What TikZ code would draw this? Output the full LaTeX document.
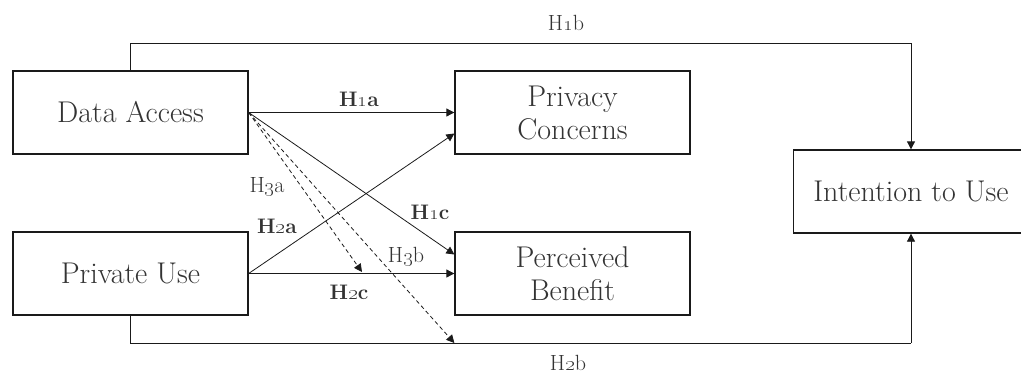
\documentclass[tikz,border=0pt]{standalone}
\usetikzlibrary{arrows.meta,calc}
\definecolor{txt}{HTML}{333333}
\definecolor{ln}{HTML}{1A1A1A}
\newcommand{\hyp}[2]{H\oldstylenums{#1}#2}
\begin{document}
\begin{tikzpicture}[x=1pt,y=-1pt,
  construct/.style={draw=ln,line width=1.3pt,rectangle,minimum width=235pt,minimum height=83pt,
    align=center,text=txt,font=\fontsize{30}{33}\selectfont,inner sep=0pt},
  link/.style={draw=ln,line width=0.8pt,-{Triangle[length=8pt,width=8pt]}},
  plain/.style={draw=ln,line width=0.8pt},
  dlink/.style={link,dash pattern=on 4pt off 3pt},
  hlab/.style={text=txt,anchor=base,inner sep=0pt,font=\fontsize{22}{26}\selectfont},
  blab/.style={hlab,font=\fontsize{21}{25}\selectfont\bfseries}]
\useasboundingbox (0,0) rectangle (1021,373);

% constructs
\node[construct] (da) at (130.5,112.5) {Data Access};
\node[construct] (pu) at (130.5,273.5) {Private Use};
\node[construct] (pc) at (572.5,112.5) {Privacy\\Concerns};
\node[construct] (pb) at (572.5,273.5) {Perceived\\Benefit};
\node[construct] (iu) at (911,191.5) {Intention to Use};

% routing points of the outer paths and the dashed targets
\coordinate (top) at (911,43);
\coordinate (bot) at (911,343);
\coordinate (h3a) at (362,272);
\coordinate (h3b) at (pb.west |- bot);

% direct effects
\draw[link] (da.east) -- (pc.west);
\draw[link] (da.east) -- ([yshift=19pt]pb.west);
\draw[link] (pu.east) -- ([yshift=-21pt]pc.west);
\draw[link] (pu.east) -- (pb.west);
\draw[plain] (da.north) |- (top);
\draw[link] (top) -- (iu.north);
\draw[plain] (pu.south) |- (bot);
\draw[link] (bot) -- (iu.south);

% dashed effects
\draw[dlink] (da.east) -- (h3a);
\draw[dlink] (da.east) -- (h3b);

% hypothesis labels
\node[blab] (l1a) at (359,106) {\hyp{1}{a}};
\node[blab] (l1c) at (430,219) {\hyp{1}{c}};
\node[blab] (l2a) at (277,233) {\hyp{2}{a}};
\node[blab] (l2c) at (349,299) {\hyp{2}{c}};
\node[hlab] (l1b) at (566,30) {\hyp{1}{b}};
\node[hlab] (l2b) at (568,370) {\hyp{2}{b}};
\node[hlab] (l3a) at (267,192) {\hyp{3}{a}};
\node[hlab] (l3b) at (406,262) {\hyp{3}{b}};
\end{tikzpicture}
\end{document}
